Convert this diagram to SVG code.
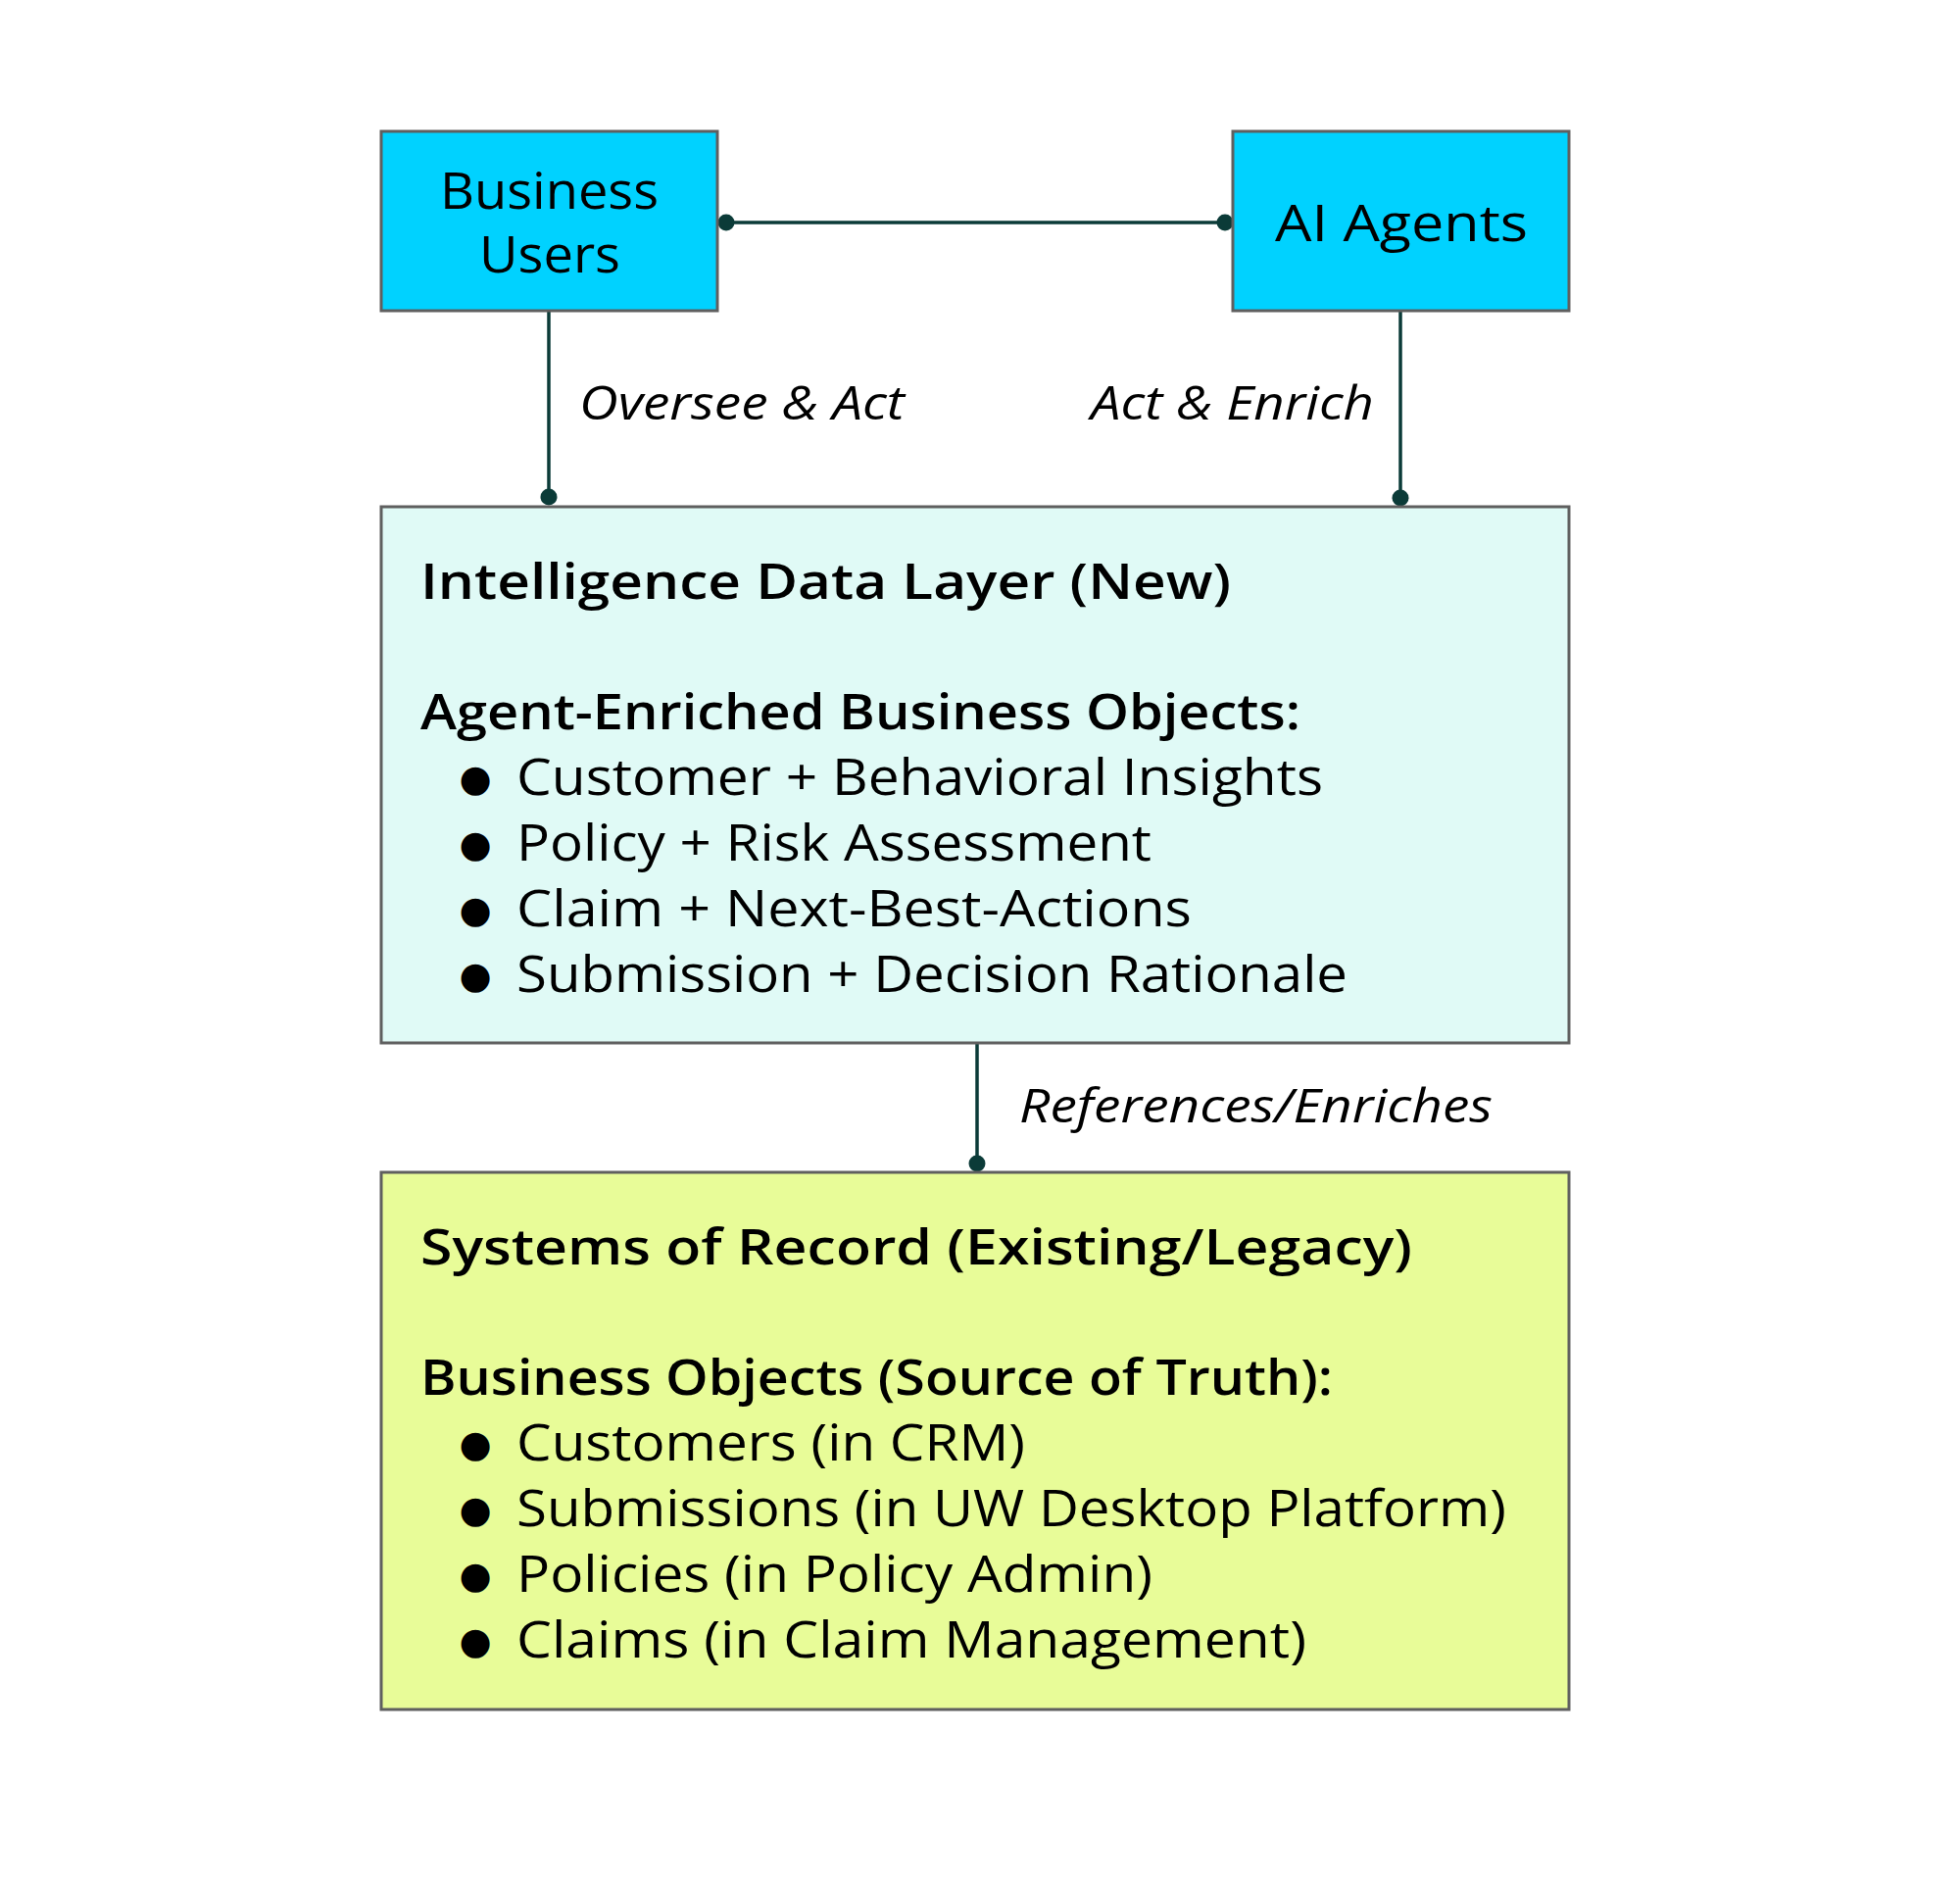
<svg xmlns="http://www.w3.org/2000/svg" width="2000" height="1920" viewBox="0 0 2000 1920">
<style>
  .box { stroke: #5f5f5f; stroke-width: 3; }
  .blue { fill: #00D2FF; }
  .mint { fill: #E0FAF6; }
  .lime { fill: #E8FC98; }
  .t { font-family: "Open Sans", "Noto Sans", "Liberation Sans", sans-serif; fill: #000; font-size: 51px; }
  .b { font-weight: 600; }
  .bul { font-family: "DejaVu Sans", sans-serif; fill: #000; font-size: 38px; text-anchor: middle; }
  .lbl { font-family: "Open Sans", "Noto Sans", "Liberation Sans", sans-serif; font-style: italic; font-size: 47px; fill: #000; }
  .conn { stroke: #0B3B38; stroke-width: 3.5; fill: none; }
</style>
<defs>
  <marker id="dot" markerUnits="userSpaceOnUse" markerWidth="20" markerHeight="20" refX="10" refY="10" viewBox="0 0 20 20">
    <circle cx="10" cy="10" r="8.5" fill="#0B3B38"/>
  </marker>
</defs>
<rect width="2000" height="1920" fill="#ffffff"/>

<g id="connectors">
  <line class="conn" x1="741" y1="227" x2="1250" y2="227" marker-start="url(#dot)" marker-end="url(#dot)"/>
  <line class="conn" x1="560" y1="318" x2="560" y2="507" marker-end="url(#dot)"/>
  <line class="conn" x1="1429" y1="318" x2="1429" y2="508" marker-end="url(#dot)"/>
  <line class="conn" x1="997" y1="1065" x2="997" y2="1187" marker-end="url(#dot)"/>
  <text class="lbl" x="591" y="428" textLength="332" lengthAdjust="spacingAndGlyphs">Oversee &amp; Act</text>
  <text class="lbl" x="1113" y="428" textLength="289" lengthAdjust="spacingAndGlyphs">Act &amp; Enrich</text>
  <text class="lbl" x="1040" y="1145" textLength="483" lengthAdjust="spacingAndGlyphs">References/Enriches</text>
</g>

<g id="business-users">
  <rect class="box blue" x="389" y="134" width="343" height="183"/>
  <text class="t" x="449" y="213" textLength="223" lengthAdjust="spacingAndGlyphs">Business</text>
  <text class="t" x="489" y="278" textLength="144" lengthAdjust="spacingAndGlyphs">Users</text>
</g>

<g id="ai-agents">
  <rect class="box blue" x="1258" y="134" width="343" height="183"/>
  <text class="t" x="1301" y="246" textLength="258" lengthAdjust="spacingAndGlyphs">AI Agents</text>
</g>

<g id="intelligence-data-layer">
  <rect class="box mint" x="389" y="517" width="1212" height="547"/>
  <text class="t b" x="429" y="611" textLength="827" lengthAdjust="spacingAndGlyphs">Intelligence Data Layer (New)</text>
  <text class="t b" x="429" y="744" textLength="898" lengthAdjust="spacingAndGlyphs">Agent-Enriched Business Objects:</text>
  <text class="bul" x="485" y="807">●</text><text class="t" x="527" y="811" textLength="823" lengthAdjust="spacingAndGlyphs">Customer + Behavioral Insights</text>
  <text class="bul" x="485" y="874">●</text><text class="t" x="527" y="878" textLength="648" lengthAdjust="spacingAndGlyphs">Policy + Risk Assessment</text>
  <text class="bul" x="485" y="941">●</text><text class="t" x="527" y="945" textLength="689" lengthAdjust="spacingAndGlyphs">Claim + Next-Best-Actions</text>
  <text class="bul" x="485" y="1008">●</text><text class="t" x="527" y="1012" textLength="848" lengthAdjust="spacingAndGlyphs">Submission + Decision Rationale</text>
</g>

<g id="systems-of-record">
  <rect class="box lime" x="389" y="1196" width="1212" height="548"/>
  <text class="t b" x="429" y="1290" textLength="1012" lengthAdjust="spacingAndGlyphs">Systems of Record (Existing/Legacy)</text>
  <text class="t b" x="429" y="1423" textLength="931" lengthAdjust="spacingAndGlyphs">Business Objects (Source of Truth):</text>
  <text class="bul" x="485" y="1486">●</text><text class="t" x="527" y="1490" textLength="519" lengthAdjust="spacingAndGlyphs">Customers (in CRM)</text>
  <text class="bul" x="485" y="1553">●</text><text class="t" x="527" y="1557" textLength="1010" lengthAdjust="spacingAndGlyphs">Submissions (in UW Desktop Platform)</text>
  <text class="bul" x="485" y="1620">●</text><text class="t" x="527" y="1624" textLength="649" lengthAdjust="spacingAndGlyphs">Policies (in Policy Admin)</text>
  <text class="bul" x="485" y="1687">●</text><text class="t" x="527" y="1691" textLength="806" lengthAdjust="spacingAndGlyphs">Claims (in Claim Management)</text>
</g>
</svg>
